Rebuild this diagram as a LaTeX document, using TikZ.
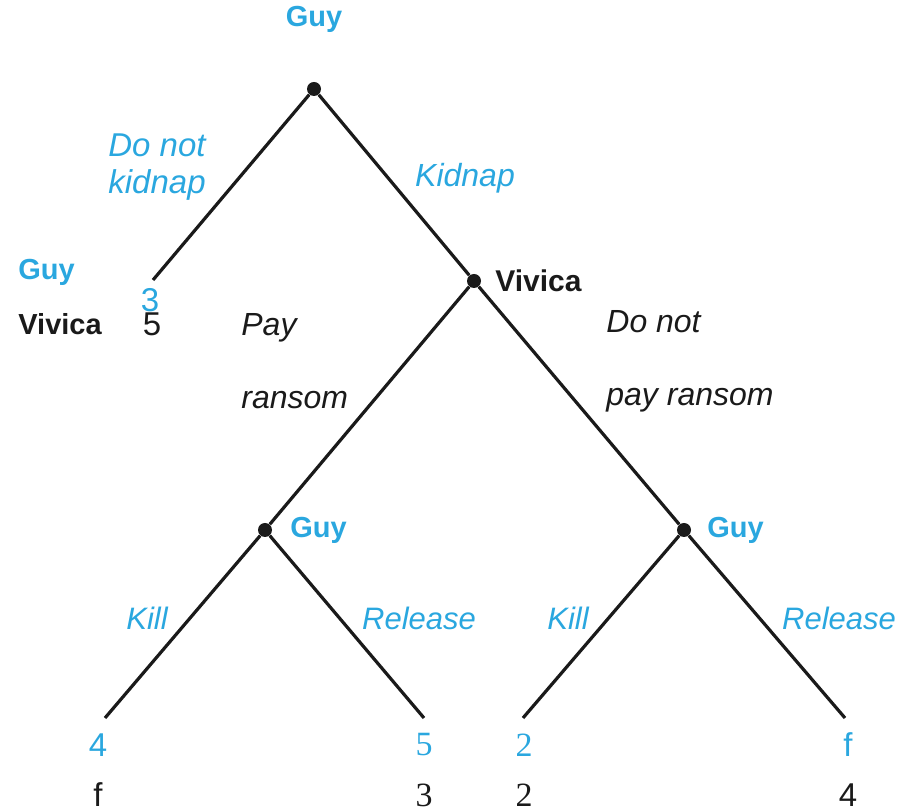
\documentclass[tikz,border=0pt]{standalone}
\usepackage{fontspec}
\setmainfont{Liberation Sans}
\newfontfamily\numserif{Liberation Serif}
\usepackage{xcolor}
\usetikzlibrary{positioning}
\definecolor{guyblue}{HTML}{2AA7DF}
\definecolor{inkblack}{HTML}{1A1A1A}

\begin{document}
\begin{tikzpicture}[
  x=0.5pt, y=-0.5pt,
  dot/.style={circle, fill=inkblack, inner sep=0pt, minimum size=7pt},
  br/.style={line width=1.6pt, draw=inkblack},
  pl/.style={font=\bfseries\fontsize{14.5}{17}\selectfont, inner sep=0pt, text=inkblack},
  guy/.style={pl, text=guyblue},
  act/.style={font=\itshape\fontsize{15.5}{18.5}\selectfont, inner sep=0pt, align=left, text=guyblue},
  vact/.style={font=\itshape\fontsize{16}{36.5}\selectfont, inner sep=0pt, align=left, text=inkblack},
  pay/.style={font=\numserif\fontsize{17}{20}\selectfont, inner sep=0pt},
  paysf/.style={font=\fontsize{16.5}{20}\selectfont, inner sep=0pt},
]
\useasboundingbox (0,0) rectangle (912,812);

% decision nodes
\node[dot] (root) at (314,89) {};
\node[dot] (viv) at (474,281) {};
\node[dot] (guyA) at (265,530) {};
\node[dot] (guyB) at (684,530) {};

% end points
\coordinate (noK) at (153,280);
\coordinate (kA) at (105,718);
\coordinate (rA) at (424,718);
\coordinate (kB) at (523,718);
\coordinate (rB) at (845,718);

% branches
\draw[br] (root) -- (noK);
\draw[br] (root) -- (viv);
\draw[br] (viv) -- (guyA);
\draw[br] (viv) -- (guyB);
\draw[br] (guyA) -- (kA);
\draw[br] (guyA) -- (rA);
\draw[br] (guyB) -- (kB);
\draw[br] (guyB) -- (rB);

% players
\node[guy] (guyTop) at (314,19) {Guy};
\node[pl, font=\bfseries\fontsize{15}{17}\selectfont, anchor=west] (vivLbl) at (495,281) {Vivica};
\node[guy, anchor=west] (guyALbl) at (290,530) {Guy};
\node[guy, anchor=west] (guyBLbl) at (707,530) {Guy};

% actions
\node[act, font=\itshape\fontsize{16.5}{18.5}\selectfont, anchor=west] (dnk) at (108,167) {Do not\\kidnap};
\node[act, font=\itshape\fontsize{16}{18.5}\selectfont] (kid) at (465,178) {Kidnap};
\node[vact, anchor=west] (payR) at (241,361) {Pay\\ransom};
\node[vact, anchor=west] (noPay) at (606,361) {Do not\\pay ransom};
\node[act] (killA) at (147,618) {Kill};
\node[act] (relA) at (419,618) {Release};
\node[act] (killB) at (568,618) {Kill};
\node[act] (relB) at (839,618) {Release};

% payoffs: no kidnap
\node[guy, anchor=west] (guyKey) at (18,272) {Guy};
\node[pl, anchor=west] (vivKey) at (18,324) {Vivica};
\node[paysf, text=guyblue] (g0) at (150,300) {3};
\node[paysf, text=inkblack] (v0) at (152,324) {5};

% payoffs: leaves
\node[paysf, text=guyblue] (g1) at (98,745) {4};
\node[pay, text=guyblue] (g2) at (424,745) {5};
\node[pay, text=guyblue] (g3) at (524,745) {2};
\node[paysf, text=guyblue] (g4) at (848,745) {f};
\node[paysf, text=inkblack] (v1) at (98,795) {f};
\node[pay, text=inkblack] (v2) at (424,795) {3};
\node[pay, text=inkblack] (v3) at (524,795) {2};
\node[paysf, text=inkblack] (v4) at (848,795) {4};
\end{tikzpicture}
\end{document}
